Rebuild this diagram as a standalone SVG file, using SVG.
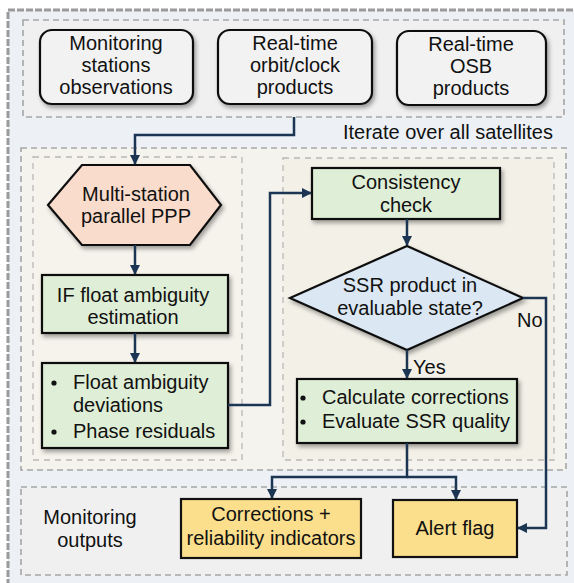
<svg xmlns="http://www.w3.org/2000/svg" width="574" height="583" viewBox="0 0 574 583">
<defs>
<filter id="sh" x="-10%" y="-10%" width="125%" height="130%">
<feDropShadow dx="2" dy="3" stdDeviation="2" flood-color="#000" flood-opacity="0.35"/>
</filter>
<marker id="ah" viewBox="0 0 10 10" refX="9" refY="5" markerWidth="10" markerHeight="10" markerUnits="userSpaceOnUse" orient="auto">
<path d="M0,0 L10,5 L0,10 Z" fill="#1b3553"/>
</marker>
</defs>
<style>
text{font-family:"Liberation Sans",Arial,sans-serif;font-size:20px;fill:#111;}
.c{text-anchor:middle;}
.panel{stroke:#a6a6a6;stroke-width:1.6;stroke-dasharray:6 4;}
.inner{stroke:#b8b8b8;stroke-width:1.3;stroke-dasharray:6 5;}
.box{stroke:#111;stroke-width:2.2;}
.in{fill:#f2f2f2;}
.green{fill:#dfeed6;}
.yel{fill:#fbdf8c;}
.con{fill:none;stroke:#1b3553;stroke-width:2.5;}
</style>
<rect x="0" y="0" width="574" height="583" fill="#ffffff"/>
<rect x="8" y="10" width="580" height="590" fill="#edf1f6" stroke="#9a9a9a" stroke-width="3" stroke-dasharray="7 2"/>
<g id="panels">
<rect class="panel" x="23" y="20" width="541" height="97" fill="#f0f0f0"/>
<rect class="panel" x="21" y="148" width="545" height="322" fill="#f5f3ee"/>
<rect class="inner" x="33" y="157" width="209" height="303" fill="#f6f3ec"/>
<rect class="inner" x="283" y="158" width="271" height="302" fill="#f2f0e7"/>
<rect class="panel" x="21" y="487" width="546" height="88" fill="#f0f0f0"/>
</g>
<g id="iterate-label"><text x="553" y="139" text-anchor="end">Iterate over all satellites</text></g>
<g id="monitoring-outputs-label"><text class="c" x="90" y="524">Monitoring</text><text class="c" x="90" y="547">outputs</text></g>
<g id="input-obs">
<rect class="box in" x="40" y="30" width="153" height="74" rx="12" filter="url(#sh)"/>
<text class="c" x="116" y="50">Monitoring</text><text class="c" x="116" y="72">stations</text><text class="c" x="116" y="94">observations</text>
</g>
<g id="input-orbit">
<rect class="box in" x="218" y="30" width="154" height="74" rx="12" filter="url(#sh)"/>
<text class="c" x="295" y="50">Real-time</text><text class="c" x="295" y="72">orbit/clock</text><text class="c" x="295" y="94">products</text>
</g>
<g id="input-osb">
<rect class="box in" x="397" y="31" width="149" height="74" rx="12" filter="url(#sh)"/>
<text class="c" x="471" y="51">Real-time</text><text class="c" x="471" y="73">OSB</text><text class="c" x="471" y="95">products</text>
</g>
<g id="ppp">
<polygon class="box" points="48,205 82,165 190,165 221,205 190,245 82,245" fill="#f9dccb" filter="url(#sh)"/>
<text class="c" x="136" y="201">Multi-station</text><text class="c" x="136" y="223">parallel PPP</text>
</g>
<g id="if-float">
<rect class="box green" x="42" y="275" width="186" height="58" filter="url(#sh)"/>
<text class="c" x="133" y="302">IF float ambiguity</text><text class="c" x="133" y="324">estimation</text>
</g>
<g id="deviations">
<rect class="box green" x="42" y="363" width="186" height="85" filter="url(#sh)"/>
<circle cx="54" cy="383" r="2.6" fill="#111"/>
<text x="73" y="389">Float ambiguity</text>
<text x="73" y="412">deviations</text>
<circle cx="54" cy="432" r="2.6" fill="#111"/>
<text x="73" y="438">Phase residuals</text>
</g>
<g id="consistency">
<rect class="box green" x="312" y="168" width="188" height="51" filter="url(#sh)"/>
<text class="c" x="406" y="189">Consistency</text><text class="c" x="406" y="212">check</text>
</g>
<g id="decision">
<polygon class="box" points="290,298 407,246 523,298 407,350" fill="#dbe8f3" filter="url(#sh)"/>
<text class="c" x="410" y="292">SSR product in</text><text class="c" x="410" y="315">evaluable state?</text>
</g>
<g id="calc">
<rect class="box green" x="297" y="379" width="220" height="64" filter="url(#sh)"/>
<circle cx="303" cy="398" r="2.6" fill="#111"/>
<text x="322" y="404">Calculate corrections</text>
<circle cx="303" cy="422" r="2.6" fill="#111"/>
<text x="322" y="428">Evaluate SSR quality</text>
</g>
<g id="corrections-out">
<rect class="box yel" x="181" y="499" width="180" height="59"/>
<text class="c" x="271" y="521">Corrections +</text><text class="c" x="271" y="545">reliability indicators</text>
</g>
<g id="alert">
<rect class="box yel" x="393" y="500" width="124" height="57"/>
<text class="c" x="455" y="535">Alert flag</text>
</g>
<g id="connectors">
<path class="con" d="M294,117 V135 H135 V164" marker-end="url(#ah)"/>
<path class="con" d="M135,245 V274" marker-end="url(#ah)"/>
<path class="con" d="M135,333 V362" marker-end="url(#ah)"/>
<path class="con" d="M228,405 H270 V193 H311" marker-end="url(#ah)"/>
<path class="con" d="M407,219 V245" marker-end="url(#ah)"/>
<path class="con" d="M407,350 V378" marker-end="url(#ah)"/>
<path class="con" d="M523,298 H546 V528 H518" marker-end="url(#ah)"/>
<path class="con" d="M407,443 V477 H272 V498" marker-end="url(#ah)"/>
<path class="con" d="M407,477 H456 V499" marker-end="url(#ah)"/>
<text x="517" y="327">No</text>
<text x="413" y="374">Yes</text>
</g>
</svg>
